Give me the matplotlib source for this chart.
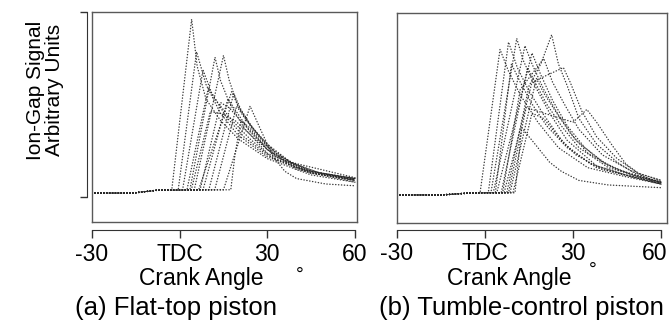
import matplotlib
matplotlib.use('Agg')
import matplotlib.pyplot as plt
from matplotlib.transforms import offset_copy

plt.rcParams['font.family'] = ['Liberation Sans', 'DejaVu Sans']

# ion-gap traces, flat-top piston (crank angle, signal in arbitrary units)
flat_angle = [
    [-30, -16, -8, -2.7, 4.1, 6, 9, 14, 20, 30, 45, 60],
    [-30, -16, -8, -0.5, 5.8, 9, 14, 20, 30, 45, 60],
    [-30, -16, -8, 1.0, 8.0, 11, 16, 22, 30, 45, 60],
    [-30, -16, -8, 2.5, 9.8, 13, 18, 24, 32, 45, 60],
    [-30, -16, -8, 3.5, 12.1, 14, 17, 22, 30, 45, 60],
    [-30, -16, -8, 5.0, 15.0, 17, 20, 25, 32, 45, 60],
    [-30, -16, -8, 6.5, 17.8, 20, 24, 30, 38, 48, 60],
    [-30, -16, -8, 8.0, 16.5, 19, 24, 30, 40, 60],
    [-30, -16, -8, 10, 18.5, 21, 25, 30, 38, 60],
    [-30, -16, -8, 12, 19.5, 22, 27, 33, 42, 60],
    [-30, -16, -8, 15, 24.1, 28, 32, 36, 40, 50, 60],
    [-30, -16, -8, 17.5, 19, 21, 24, 30, 40, 60],
    [-30, -16, -8, 4, 10.5, 14, 19, 25, 33, 45, 60],
    [-30, -16, -8, 7, 14, 17, 22, 28, 36, 48, 60],
]
flat_signal = [
    [0, 0, 1.5, 1.8, 96, 70, 52, 40, 30, 19, 10, 6],
    [0, 0, 1.5, 1.8, 78, 60, 44, 32, 20, 11, 7],
    [0, 0, 1.5, 1.8, 68, 55, 42, 31, 21, 11, 7.5],
    [0, 0, 1.5, 1.8, 58, 50, 40, 30, 19, 11, 7],
    [0, 0, 1.5, 1.8, 75, 62, 50, 36, 22, 11.5, 8],
    [0, 0, 1.5, 1.8, 76, 62, 48, 35, 22, 12, 8],
    [0, 0, 1.5, 1.8, 56, 48, 38, 26, 17, 11, 8],
    [0, 0, 1.5, 1.8, 52, 46, 34, 24, 14, 7],
    [0, 0, 1.5, 1.8, 55, 46, 36, 27, 17, 8.5],
    [0, 0, 1.5, 1.8, 48, 42, 32, 22, 13, 7],
    [0, 0, 1.5, 1.8, 48, 34, 20, 12, 8, 5, 4],
    [0, 0, 1.5, 1.8, 22, 40, 36, 24, 13, 6],
    [0, 0, 1.5, 1.8, 45, 44, 40, 31, 20, 12, 8],
    [0, 0, 1.5, 1.8, 50, 47, 38, 28, 18, 11, 7.5],
]

# tumble-control piston
tumble_angle = [
    [-30, -15, -5, -1.7, 5.1, 8, 12, 18, 25, 35, 48, 60],
    [-30, -15, -5, 1.1, 8, 11, 15, 20, 27, 36, 48, 60],
    [-30, -15, -5, 2.0, 10.8, 13, 17, 22, 28, 38, 50, 60],
    [-30, -15, -5, 2.8, 13.6, 16, 20, 25, 31, 40, 50, 60],
    [-30, -15, -5, 4.0, 16, 19, 23, 28, 34, 42, 52, 60],
    [-30, -15, -5, 7.4, 15, 19, 22.7, 25, 28, 32, 38, 45, 52, 60],
    [-30, -15, -5, 6.5, 16, 26.7, 29, 33, 38, 45, 52, 60],
    [-30, -15, -5, 8, 14, 22, 30, 34.7, 38, 43, 48, 54, 60],
    [-30, -15, -5, 10.2, 12.5, 16, 22, 26, 32, 42, 60],
    [-30, -15, -5, 3.5, 9, 12, 16, 21, 28, 38, 60],
    [-30, -15, -5, 5.5, 14.5, 17, 21, 26, 32, 42, 60],
    [-30, -15, -5, 8.5, 17.5, 20, 24, 29, 35, 45, 60],
    [-30, -15, -5, 9.5, 16, 20, 25, 31, 40, 60],
    [-30, -15, -5, 6, 12, 20, 23, 27, 32, 40, 50, 60],
]
tumble_signal = [
    [0, 0, 1.1, 1.2, 80, 68, 55, 40, 26, 15, 10, 6],
    [0, 0, 1.1, 1.2, 84, 70, 57, 44, 28, 17, 11, 6.5],
    [0, 0, 1.1, 1.2, 86, 74, 60, 45, 30, 16, 10, 6],
    [0, 0, 1.1, 1.2, 82, 72, 58, 44, 30, 18, 11, 7],
    [0, 0, 1.1, 1.2, 78, 66, 52, 38, 26, 16, 10, 7],
    [0, 0, 1.1, 1.2, 60, 72, 88, 72, 60, 42, 28, 18, 11, 7],
    [0, 0, 1.1, 1.2, 62, 70, 62, 46, 32, 20, 12, 8],
    [0, 0, 1.1, 1.2, 48, 44, 40, 47, 40, 28, 17, 10, 7],
    [0, 0, 1.1, 1.2, 37, 30, 18, 13, 8, 5.5, 4],
    [0, 0, 1.1, 1.2, 72, 62, 50, 38, 26, 15, 6],
    [0, 0, 1.1, 1.2, 70, 62, 50, 38, 26, 15, 6.5],
    [0, 0, 1.1, 1.2, 64, 56, 46, 34, 23, 14, 7],
    [0, 0, 1.1, 1.2, 45, 42, 32, 22, 14, 6],
    [0, 0, 1.1, 1.2, 58, 75, 62, 50, 36, 22, 13, 8],
]

xticks = [-30, 0, 30, 60]
xticklabels = ['-30', 'TDC', '30', '60']

W, H = 669, 323
fig = plt.figure(figsize=(W / 100, H / 100), dpi=100)


def px(x, y):
    return x / W, 1 - y / H


def panel(rect, angles, signals, xmax, ymin, drop, bracket):
    ax = fig.add_axes(rect)
    for a, s in zip(angles, signals):
        ax.plot(a, s, color='0.15', lw=1.0, ls=(0, (0.2, 1.9)), dash_capstyle='round', alpha=0.9)
    ax.set_xlim(-30, xmax)
    ax.set_ylim(ymin, 100)
    ax.set_xticks([])
    ax.set_yticks([])
    for s in ax.spines.values():
        s.set_linewidth(1.0)
        s.set_color('0.35')

    # separate crank angle axis under the box (and the signal bracket)
    axo = fig.add_axes(rect, facecolor='none')
    axo.set_xlim(-30, xmax)
    axo.set_ylim(ymin, 100)
    axo.spines['top'].set_visible(False)
    axo.spines['right'].set_visible(False)
    axo.spines['bottom'].set_position(('outward', drop))
    axo.spines['bottom'].set_bounds(-30, 60)
    axo.spines['bottom'].set_color('0.2')
    axo.set_xticks(xticks)
    axo.set_xticklabels(xticklabels, fontsize=16.5)
    axo.tick_params(axis='x', direction='out', length=6, width=1, pad=3, color='0.2')
    if bracket:
        axo.spines['left'].set_position(('outward', 3.6))
        axo.spines['left'].set_bounds(-2, 100)
        axo.spines['left'].set_color('0.2')
        axo.set_yticks([-2, 100])
        axo.set_yticklabels([])
        axo.tick_params(axis='y', direction='out', length=5, width=1, color='0.2')
    else:
        axo.spines['left'].set_visible(False)
        axo.set_yticks([])
    return axo


panel([92 / W, 1 - 222 / H, 265 / W, 210 / H], flat_angle, flat_signal, 60.7, -16, 5.8, True)
axr = panel([397 / W, 1 - 223 / H, 270 / W, 210 / H], tumble_angle, tumble_signal, 62.0, -15.4, 5.0, False)

# last label of the right panel sits just inside the figure edge
last = axr.get_xticklabels()[-1]
last.set_horizontalalignment('right')
last.set_transform(offset_copy(last.get_transform(), fig=fig, x=6, y=0, units='dots'))

fig.text(*px(45, 90), 'Ion-Gap Signal\nArbitrary Units', rotation=90, ha='center', va='center',
         fontsize=15, linespacing=0.95)

fig.text(*px(201, 285), 'Crank Angle', ha='center', va='baseline', fontsize=16.5)
fig.text(*px(300, 275), '\u00b0', ha='center', va='center', fontsize=14)
fig.text(*px(176, 315), '(a) Flat-top piston', ha='center', va='baseline', fontsize=18.5)

fig.text(*px(509, 285), 'Crank Angle', ha='center', va='baseline', fontsize=16.5)
fig.text(*px(593, 270), '\u00b0', ha='center', va='center', fontsize=14)
fig.text(*px(521, 315), '(b) Tumble-control piston', ha='center', va='baseline', fontsize=18.5)

fig.savefig('out.png', dpi=100)
